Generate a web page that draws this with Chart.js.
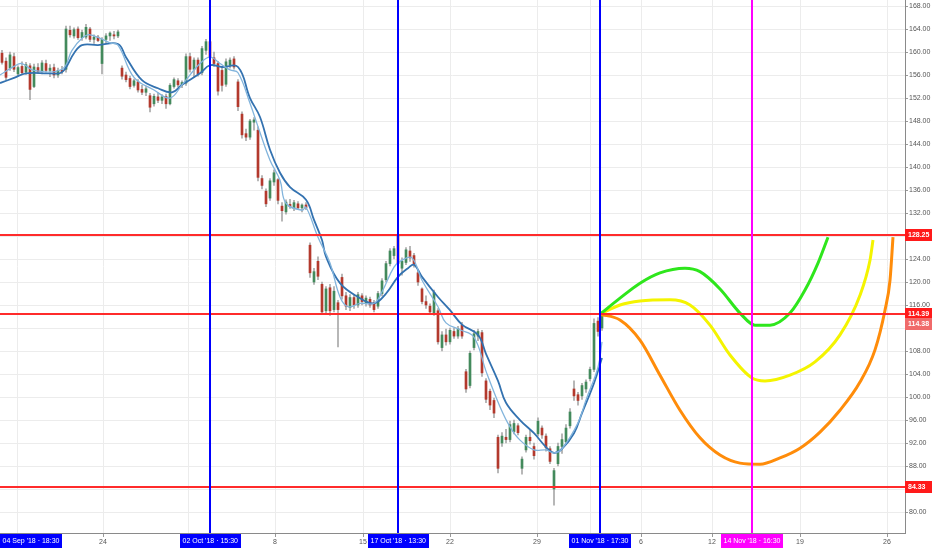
<!DOCTYPE html>
<html>
<head>
<meta charset="utf-8">
<script src="https://cdn.jsdelivr.net/npm/chart.js@4.4.0/dist/chart.umd.min.js"></script>
<style>
  html, body { margin: 0; padding: 0; background: #fff; }
</style>
</head>
<body>
<canvas id="chart" width="932" height="550"></canvas>
<script>
// candles, one per bar index
const opens = [159.8,158.4,157.2,159.2,156.2,157.5,156.5,157.6,154,157.3,
  156.7,158,156.8,157.3,156,156.8,157,163.8,162.8,164,
  162.5,162.6,164,162.2,162.6,158,162.2,162.8,163,162.8,
  157.2,156,155.4,154.2,154.8,153.5,153,152.4,151,152.2,
  151.6,152.3,151,154,155,154.3,154.6,159.2,157,158.6,
  156.4,160.3,161.8,159,158,156.8,154.4,157.8,158.8,154.8,
  149.2,145.8,145.2,147.8,146.4,138,135.8,134.6,137.4,137.8,
  133.2,132.2,133.5,132.8,133.6,132.9,133.4,126.4,120,123.6,
  119.6,115,119,115.2,116.4,120.8,117.6,115.6,117.3,116,
  117.6,116.4,117,116.4,115.8,118,120.4,123.2,124.6,128,
  122.4,123.4,125.4,124.6,121.6,118.8,116.6,115.8,114.6,115,
  108.6,110.8,109.6,111.4,110.6,112.5,104.4,102,108.6,110.6,
  111.2,102.8,101,99.4,93,92,93,92.6,94,95,
  87.6,90.8,93,91.4,93.6,94.6,93.2,91,84,88.4,
  91.4,92.2,95,101.4,100.4,100.2,101.4,103.2,104.8,113.2,
  112];
const highs = [160.3,159,160,159.8,157.6,158.3,158.2,158,157.9,158,
  158.5,158.6,157.8,157.9,157.2,157.5,164.5,164.5,164.2,164.4,
  163.8,164.8,164.3,163,162.9,162.5,163.2,163.5,163.6,163.8,
  157.6,156.5,155.8,155.3,155.2,154.2,154,152.8,152.7,152.9,
  152.6,152.7,154.5,155.5,155.4,155,159.7,159.8,159,159,
  161,162.2,162.3,160,158.4,157.3,158.8,159,159.2,155.2,
  149.6,146.6,148.3,148.6,147,138.5,136.2,138,139.5,138,
  133.8,134.3,134.4,134.2,134,133.6,133.8,126.8,122.4,124.4,
  120,119.2,119.6,119.2,116.8,121.4,118.2,117.8,117.8,118.2,
  118,117.6,117.4,116.8,118.4,120.6,123.6,125.8,126.2,128.25,
  124.2,126,126.2,125,122,119,117.6,116.2,118.6,115.4,
  111.4,111.8,112,112,112.3,113,104.8,108,111.6,111.8,
  111.6,103.2,101.4,99.8,93.4,93.8,94.4,95.8,96,95.4,
  89.6,93.4,94.2,92,96.4,95,93.6,91.4,87.6,92,
  93.6,95.2,98,102.8,100.8,102.4,103,105.2,113.6,113.8,
  114.8];
const lows = [157.9,155.2,156.8,156.6,155.8,156,156.1,151.7,153.8,156.3,
  156.2,156.4,155.7,155.5,155.6,156.2,156.5,162.6,162.4,162.2,
  162,162.3,161.8,161.5,161.8,156.2,161.6,162,162.3,162.5,
  155.3,154.8,153.6,153.9,153,152.6,152.4,149.6,150.6,151.2,
  151,150.2,150.8,153.7,153.9,153.8,154.2,156.5,155.6,155.8,
  156,159.6,158.6,157.5,152.5,153.2,154,157.2,157,149.8,
  145,144.6,144.8,146.4,137.6,136.2,133.1,134.2,136.8,133.6,
  130.6,131.8,132.8,132.4,132.6,132.2,132.6,120.8,119.6,120.4,
  114.4,114.4,114.2,114.8,108.7,117,115.2,115,115.4,115.6,
  116,115.8,115.6,114.8,115.4,117.6,120,122.8,124,122.4,
  121.2,123,123.6,122.6,119.4,116.2,115.4,114.4,114.2,109.2,
  108,109,109.2,110.2,110.2,110.2,100.8,101.6,108.2,109.8,
  103.6,99,97.8,96.4,86.8,91.4,92,92.2,93.6,93.4,
  86.6,90.4,91.8,89.2,93.2,92.8,90.6,88.4,81.2,88,
  90.2,91.8,94.6,99.4,98.6,99.6,100.8,102.8,104.4,110.6,
  111.6];
const closes = [158.2,155.6,159.5,157,157.3,156.4,157.8,153.5,157.4,156.6,
  158.1,156.8,157.2,156,156.8,156.6,164,163,163.9,162.5,
  163.4,164.3,162.2,162.6,162,162.2,162.8,163.3,162.8,163.5,
  155.8,155.2,154,155,153.4,153,153.6,150.4,152.3,151.6,
  152.2,151,154.2,155.2,154.3,154.7,159.2,157,158.6,156.2,
  160.6,161.8,159,158,153.2,154.2,158.3,158.6,157.4,150.5,
  145.6,145.2,148,148.2,138.2,136.8,133.6,137.6,139,134.2,
  132.4,133.9,133.1,133.8,132.9,133.4,132.9,121.6,121.8,121,
  114.8,118.8,115,118.4,115.2,117.6,115.8,117.3,116,117.8,
  116.6,117.2,116,115.2,118,120.2,123.2,125.4,125.8,123.2,
  123.6,125.6,124.2,123,120,116.6,116,114.8,118.2,109.6,
  110.8,109.6,111.6,110.6,111.9,110.6,101.4,107.6,111,111.4,
  104.2,99.6,98.6,97.2,87.6,93.2,92.6,95.2,95.4,93.8,
  89.2,93,92.4,89.8,95.8,93.4,91.2,88.8,87.2,91.4,
  92.6,94.6,97.4,100.2,99.4,102,102.6,104.8,112.8,111.4,
  114.4];

// moving averages [bar index, price]
const slowMa = [[-0.5,154.6],[3,155.5],[6,156.3],[12,156.3],[15,156.5],[18,159.8],[20,161.2],[24,161.2],
  [29,161.4],[31,159.1],[35,155.1],[39,153.7],[42.5,153],[45,154.3],[49.5,156.3],[52,157.7],[55,157.4],
  [59,157.4],[62,152],[64.5,148.7],[67,143],[69.5,139],[72,136.5],[76,134.3],[78,130.8],[80,127.3],
  [81,124.4],[84.5,119.8],[89,117.4],[93,116.3],[96,118],[99,120.9],[101.5,122.4],[103,123],[105,120.9],
  [109,117.4],[112,115.1],[115,112.6],[119,110.8],[121,107.5],[124,102.8],[126,99],[129.5,96],[133,93.7],
  [136,91.3],[138,90.3],[140,91],[143,93.7],[145,97.2],[148,102.4],[150,106.8]];
const fastMa = [[-0.5,156],[3,157.5],[5,158],[8,156.8],[15,157],[17.5,160.3],[20,162.4],[22,163],
  [27,161.6],[29,161.2],[33,155.6],[38,153.4],[42,152],[45,154.3],[49.5,158],[52,159.1],[54.5,158],
  [57,156.9],[59,156.4],[62,151.1],[64.5,146],[67,141.2],[69.5,137.7],[71,133.7],[75,132.5],[76,133],
  [79,127.8],[82,123.3],[84.5,117.4],[86.5,115.7],[89.5,116.3],[93,116.3],[95,118.3],[98,122.6],
  [100,123.8],[102.5,124.2],[105,120.3],[109,115.7],[111,112.9],[114.5,111.7],[118,110.4],[121,104.5],
  [124.5,98.3],[127,94.8],[129.5,92.5],[133,90.8],[136,90.8],[138,90.3],[140,91],[144,95.5],[146,99.5],
  [149,105.2],[150,109.6]];

// projected paths [bar index, price]
const greenPath = [[149.5,114.4],[154.5,117.2],[159.5,119.8],[164.5,121.6],[170.75,122.4],[174.5,121.8],
  [179.5,118.8],[184.5,114.6],[188.25,112.5],[192,112.5],[197,114.6],[200.75,118.6],[204,123.3],[206.5,127.8]];
const yellowPath = [[149.5,114.4],[154.5,116],[159.5,116.7],[167,116.9],[172,116],[177,112.5],[182,107.3],
  [187.5,103.3],[190.75,102.8],[197,103.8],[203.25,106.1],[209.5,110.8],[214.5,117.7],[217,123.8],[217.75,127.3]];
const orangePath = [[149.5,114.4],[154.5,113.4],[159.5,109.9],[164.5,103.8],[169.5,97.7],[174.5,92.9],
  [179.5,89.9],[184.5,88.5],[189.5,88.3],[194.5,89.4],[199.5,91.1],[204.5,93.9],[209.5,97.7],[214.5,102.6],
  [218.25,108.2],[220.75,115.1],[222,120.3],[222.75,127.8]];

// horizontal levels and dated markers
const levels = [128.25, 114.39, 84.33];
const lastPrice = 114.38;
const markerIdx = [0, 52, 99, 149.5, 187.5];
const markerText = ["04 Sep '18 \u00b7 18:30", "02 Oct '18 \u00b7 15:30", "17 Oct '18 \u00b7 13:30",
  "01 Nov '18 \u00b7 17:30", "14 Nov '18 \u00b7 16:30"];
const markerLine = [false, true, true, true, true];

// bottom axis
const xTickIdx = [3.75, 25.25, 46.5, 68.25, 90.25, 112, 133.75, 147, 159.75, 177.5, 199.5, 221.25];
const xTickLabels = ['', '24', '', '8', '15', '22', '29', '', '6', '12', '19', '26'];

const FONT = '"Liberation Sans", Arial, sans-serif';
const UP = '#438a5c';
const DOWN = '#b3392d';

const pts = arr => arr.map(([x, y]) => ({ x, y }));

const overlay = {
  id: 'overlay',
  afterDatasetsDraw(chart) {
    const { ctx, chartArea: a, scales: { x, y } } = chart;
    ctx.save();
    ctx.beginPath();
    ctx.rect(a.left, a.top, a.width, a.height);
    ctx.clip();
    ctx.lineWidth = 2;
    ctx.strokeStyle = '#ff2b2b';
    levels.forEach(v => {
      const py = Math.round(y.getPixelForValue(v));
      ctx.beginPath();
      ctx.moveTo(a.left, py);
      ctx.lineTo(a.right, py);
      ctx.stroke();
    });
    markerIdx.forEach((v, i) => {
      if (!markerLine[i]) return;
      const px = Math.round(x.getPixelForValue(v));
      ctx.strokeStyle = i === 4 ? '#ff00ff' : '#0000ff';
      ctx.beginPath();
      ctx.moveTo(px, a.top);
      ctx.lineTo(px, a.bottom);
      ctx.stroke();
    });
    ctx.restore();
  },
  afterDraw(chart) {
    const { ctx, chartArea: a, scales: { x, y } } = chart;
    ctx.save();
    ctx.textBaseline = 'middle';
    ctx.textAlign = 'left';

    // price boxes on the right axis
    ctx.font = 'bold 7px ' + FONT;
    const box = (v, text, fill, shift) => {
      const py = Math.round(y.getPixelForValue(v)) + shift;
      ctx.fillStyle = fill;
      ctx.fillRect(a.right, py - 6, 27, 12);
      ctx.fillStyle = '#fff';
      ctx.fillText(text, a.right + 3, py + 0.5);
    };
    levels.forEach(v => box(v, v.toFixed(2), '#ff1a1a', 0));
    box(lastPrice, lastPrice.toFixed(2), '#f06a6a', 10);

    // date boxes on the bottom axis
    ctx.font = '7px ' + FONT;
    markerIdx.forEach((v, i) => {
      const w = Math.ceil(ctx.measureText(markerText[i]).width) + 5;
      const cx = x.getPixelForValue(v);
      const left = Math.max(a.left, Math.round(cx - w / 2));
      ctx.fillStyle = i === 4 ? '#ff00ff' : '#0000ff';
      ctx.fillRect(left, a.bottom + 1, w, 14);
      ctx.fillStyle = '#fff';
      ctx.fillText(markerText[i], left + 2.5, a.bottom + 8.5);
    });
    ctx.restore();
  }
};

const noPad = s => { s.paddingTop = 0; s.paddingBottom = 0; s.paddingLeft = 0; s.paddingRight = 0; };

new Chart(document.getElementById('chart'), {
  type: 'bar',
  data: {
    datasets: [
      { type: 'line', data: pts(greenPath), borderColor: '#2ee61c', borderWidth: 3,
        pointRadius: 0, cubicInterpolationMode: 'monotone', order: 0 },
      { type: 'line', data: pts(yellowPath), borderColor: '#f4f400', borderWidth: 3,
        pointRadius: 0, cubicInterpolationMode: 'monotone', order: 0 },
      { type: 'line', data: pts(orangePath), borderColor: '#ff8c0a', borderWidth: 3,
        pointRadius: 0, cubicInterpolationMode: 'monotone', order: 0 },
      { type: 'line', data: pts(fastMa), borderColor: '#82b4dc', borderWidth: 1.3,
        pointRadius: 0, tension: 0.4, order: 1 },
      { type: 'line', data: pts(slowMa), borderColor: '#3372b0', borderWidth: 1.8,
        pointRadius: 0, tension: 0.4, order: 1 },
      { type: 'bar', data: opens.map((o, i) => ({ x: i, y: [o, closes[i]] })),
        backgroundColor: opens.map((o, i) => closes[i] >= o ? UP : DOWN),
        barThickness: 2, minBarLength: 1, grouped: false, order: 3 },
      { type: 'bar', data: lows.map((l, i) => ({ x: i, y: [l, highs[i]] })),
        backgroundColor: '#a9a9a9', barThickness: 1, grouped: false, order: 4 }
    ]
  },
  options: {
    responsive: false,
    animation: false,
    events: [],
    layout: { padding: 0 },
    plugins: { legend: { display: false }, tooltip: { enabled: false } },
    scales: {
      x: {
        type: 'linear',
        offset: false,
        min: -0.5,
        max: 225.75,
        afterBuildTicks: s => { s.ticks = xTickIdx.map(v => ({ value: v })); },
        afterFit: s => { s.height = 17; noPad(s); },
        ticks: {
          autoSkip: false, maxRotation: 0, padding: 1, color: '#555',
          font: { family: FONT, size: 7 },
          callback: (v, i) => xTickLabels[i]
        },
        grid: { offset: false, color: '#ececec', tickLength: 4, tickColor: '#999' },
        border: { color: '#8a8a8a', width: 1 }
      },
      y: {
        type: 'linear',
        position: 'right',
        min: 76.35,
        max: 169.05,
        afterFit: s => { s.width = 27; noPad(s); },
        ticks: {
          stepSize: 4, includeBounds: false, padding: 1, color: '#555',
          font: { family: FONT, size: 7 },
          callback: v => v.toFixed(2)
        },
        grid: { color: '#ececec', tickLength: 3, tickColor: '#999' },
        border: { color: '#8a8a8a', width: 1 }
      }
    }
  },
  plugins: [overlay]
});
</script>
</body>
</html>
